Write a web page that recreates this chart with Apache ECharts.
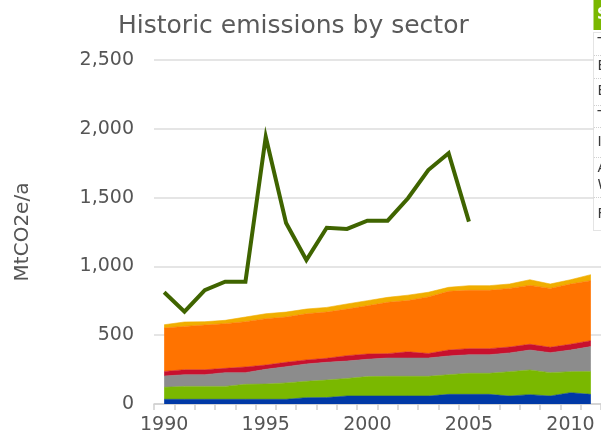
<!DOCTYPE html>
<html>
<head>
<meta charset="utf-8">
<script src="https://cdn.jsdelivr.net/npm/echarts@6/dist/echarts.min.js"></script>
<style>
html,body{margin:0;padding:0;background:#fff;}
#chart{width:601px;height:439px;}
</style>
</head>
<body>
<div id="chart"></div>
<script>
var years = ['1990','1991','1992','1993','1994','1995','1996','1997','1998','1999','2000','2001','2002','2003','2004','2005','2006','2007','2008','2009','2010','2011'];
var yTicks = [0, 500, 1000, 1500, 2000, 2500];

var blueVals   = [34,34,34,34,34,34,34,46,47,58,58,58,58,58,70,70,70,58,68,58,82,70];
var greenVals  = [87,94,94,94,109,111,119,119,127,128,141,143,143,143,143,153,153,177,179,170,153,167];
var grayVals   = [82,85,85,100,85,107,118,126,129,126,126,133,133,133,136,135,135,136,145,145,157,180];
var redVals    = [34,36,36,31,41,31,32,29,29,39,38,32,45,33,43,44,44,43,42,39,42,43];
var orangeVals = [315,315,325,325,329,337,329,336,336,339,351,373,373,411,427,424,424,426,428,428,438,436];
var yellowVals = [24,32,24,24,34,36,36,34,34,37,37,36,39,34,29,34,34,32,41,32,31,44];
var totalVals  = [812,671,828,889,889,1942,1315,1046,1281,1272,1332,1332,1495,1700,1822,1325,null,null,null,null,null,null];

var legendHeader = 'Sector';
var legendRows = ['Total incl. LULUCF','Electricity & heat','Buildings','Transport','Industry','Agriculture\nWaste','Fugitive emissions'];

var FONT = 'DejaVu Sans';
var chart = echarts.init(document.getElementById('chart'));

function area(name, data, color) {
  return {
    name: name, type: 'line', stack: 'sectors', data: data,
    showSymbol: false, symbol: 'none',
    lineStyle: { width: 0.6, color: color },
    itemStyle: { color: color },
    areaStyle: { color: color, opacity: 1 },
    z: 2
  };
}

// legend table (cut off at the right edge)
var rowTops = [32, 55, 78, 105, 127, 157, 197, 231];
var graphics = [
  { type: 'rect', shape: { x: 593.5, y: 0, width: 40, height: 30 }, style: { fill: '#7ab800' }, z: 100 },
  { type: 'text', style: { x: 597, y: 15, text: legendHeader, fill: '#ffffff', font: 'bold 15px ' + FONT, verticalAlign: 'middle' }, z: 101 },
  { type: 'rect', shape: { x: 593.5, y: 32.5, width: 40, height: 198 }, style: { fill: '#ffffff', stroke: '#c8c8c8', lineWidth: 1, lineDash: [1, 1] }, z: 100 }
];
for (var i = 0; i < legendRows.length; i++) {
  var t = rowTops[i], b = rowTops[i + 1];
  if (i > 0) {
    graphics.push({ type: 'line', shape: { x1: 594, y1: t + 0.5, x2: 640, y2: t + 0.5 }, style: { stroke: '#d0d0d0', lineWidth: 1, lineDash: [1, 1] }, z: 101 });
  }
  graphics.push({ type: 'text', style: { x: 597.5, y: (t + b) / 2, text: legendRows[i], fill: '#3a3a3a', font: '14px ' + FONT, verticalAlign: 'middle', lineHeight: 17 }, z: 101 });
}

chart.setOption({
  animation: false,
  backgroundColor: '#ffffff',
  title: {
    text: 'Historic emissions by sector',
    left: 113, top: 9,
    textStyle: { fontFamily: FONT, fontSize: 25, fontWeight: 'normal', color: '#5a5a5a' }
  },
  grid: { left: 154, top: 60, width: 452, height: 344, containLabel: false },
  xAxis: {
    type: 'category', data: years, boundaryGap: true,
    axisLine: { lineStyle: { color: '#d0d0d0', width: 1.5 } },
    axisTick: { show: true, interval: 0, length: 6, lineStyle: { color: '#d0d0d0', width: 1.5 } },
    axisLabel: { interval: 4, margin: 12, fontFamily: FONT, fontSize: 19, color: '#555555' },
    splitLine: { show: false }
  },
  yAxis: {
    type: 'value', min: yTicks[0], max: yTicks[yTicks.length - 1], interval: 500,
    name: 'MtCO2e/a', nameLocation: 'middle', nameGap: 121, nameRotate: 90,
    nameTextStyle: { fontFamily: FONT, fontSize: 20, color: '#555555' },
    axisLine: { show: false }, axisTick: { show: false },
    axisLabel: { margin: 20, fontFamily: FONT, fontSize: 19, color: '#555555',
      formatter: function (v) { return v.toLocaleString('en-US'); } },
    splitLine: { lineStyle: { color: '#dcdcdc', width: 1.5 } }
  },
  graphic: graphics,
  series: [
    area('Fuel combustion (other)', blueVals, '#0039a6'),
    area('Industry', greenVals, '#7ab800'),
    area('Transport', grayVals, '#8c8c8c'),
    area('Buildings', redVals, '#c8102e'),
    area('Electricity & heat', orangeVals, '#ff7300'),
    area('Fugitive emissions', yellowVals, '#f0ae00'),
    {
      name: 'Total incl. LULUCF', type: 'line', data: totalVals,
      showSymbol: false, symbol: 'none', connectNulls: false,
      lineStyle: { width: 4, color: '#3f6400', join: 'miter' },
      itemStyle: { color: '#3f6400' }, z: 5
    }
  ]
});
</script>
</body>
</html>
